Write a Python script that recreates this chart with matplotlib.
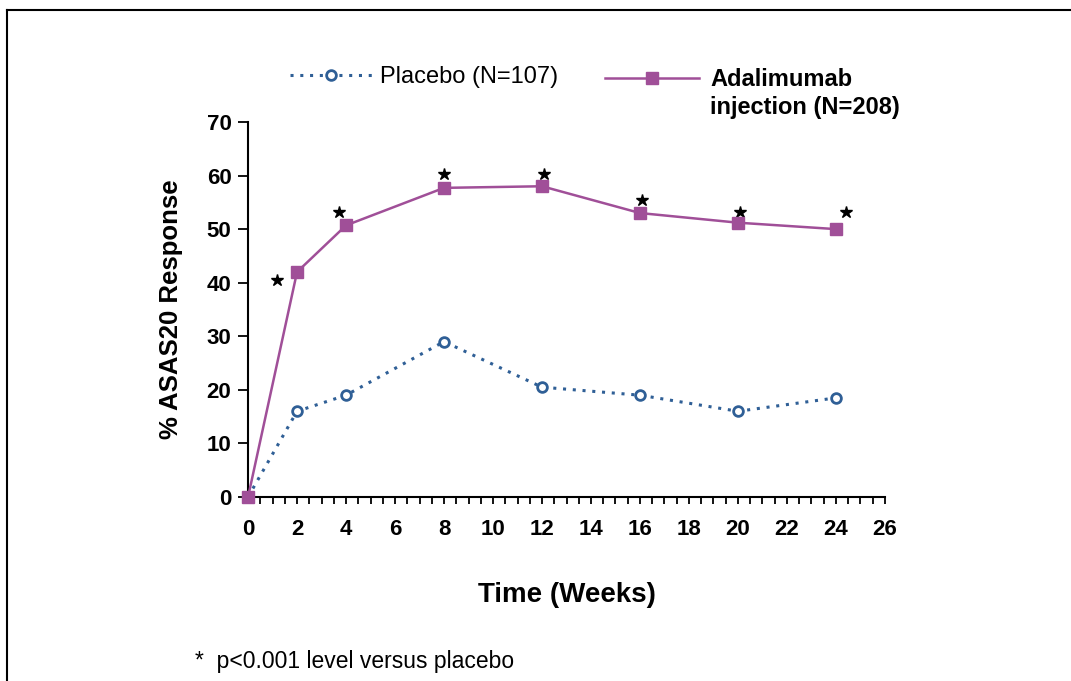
import matplotlib.pyplot as plt
from matplotlib.lines import Line2D
from matplotlib.ticker import MultipleLocator

plt.rcParams["font.family"] = ["Liberation Sans", "DejaVu Sans"]

placebo_color = "#2f5f96"
adal_color = "#a04f98"

# Data
weeks = [0, 2, 4, 8, 12, 16, 20, 24]
placebo = [0, 16, 19, 29, 20.5, 19, 16, 18.5]
adalimumab = [0, 42, 50.7, 57.7, 58, 53, 51.2, 50]

# significance asterisks (x, y)
star_x = [1.2, 3.7, 8.0, 12.1, 16.1, 20.1, 24.4]
star_y = [40.5, 53.2, 60.3, 60.3, 55.4, 53.2, 53.2]

fig = plt.figure(figsize=(10.71, 6.81), dpi=100)
ax = fig.add_axes([0.2316, 0.2702, 0.5947, 0.5507])

(l_pla,) = ax.plot(
    weeks, placebo, linestyle=(0, (1, 2.2)), linewidth=2.2, color=placebo_color,
    marker="o", markersize=7, markerfacecolor="white",
    markeredgecolor=placebo_color, markeredgewidth=2, label="Placebo (N=107)",
    clip_on=False,
)
(l_ada,) = ax.plot(
    weeks, adalimumab, linestyle="-", linewidth=1.8, color=adal_color,
    marker="s", markersize=9, markerfacecolor=adal_color,
    markeredgecolor=adal_color, label="Adalimumab", clip_on=False, zorder=3,
)
ax.plot(star_x, star_y, linestyle="none", marker="*", markersize=9, color="black")

ax.set_xlim(0, 26)
ax.set_ylim(0, 70)
ax.xaxis.set_major_locator(MultipleLocator(2))
ax.xaxis.set_minor_locator(MultipleLocator(0.5))
ax.yaxis.set_major_locator(MultipleLocator(10))

for s in ["top", "right"]:
    ax.spines[s].set_visible(False)
for s in ["left", "bottom"]:
    ax.spines[s].set_linewidth(1.5)

ax.tick_params(axis="x", which="both", direction="out", length=5, width=1.3,
               labelsize=16, pad=11)
ax.tick_params(axis="y", which="major", direction="out", length=7, width=1.3,
               labelsize=16, pad=5)
for lab in ax.get_xticklabels() + ax.get_yticklabels():
    lab.set_fontweight("bold")

ax.set_xlabel("Time (Weeks)", fontsize=20, fontweight="bold", labelpad=30)
ax.set_ylabel("% ASAS20 Response", fontsize=18.5, fontweight="bold", labelpad=17)

# legends
leg1 = fig.legend(handles=[l_pla], loc="center left",
                  bbox_to_anchor=(0.251, 0.887), frameon=False, fontsize=17,
                  handlelength=3.5, handletextpad=0.3)
leg2 = fig.legend(handles=[l_ada], loc="center left",
                  bbox_to_anchor=(0.545, 0.883), frameon=False,
                  handlelength=4.0, handletextpad=0.45,
                  prop={"weight": "bold", "size": 17})
fig.text(0.663, 0.842, "injection (N=208)", fontsize=17, fontweight="bold",
         va="center", ha="left")

fig.text(0.182, 0.029, "*  p<0.001 level versus placebo", fontsize=16.5,
         va="center", ha="left")

# outer frame (top and left edges)
fig.add_artist(Line2D([0.0065, 1.0], [0.985, 0.985], color="black",
                      linewidth=1.5, transform=fig.transFigure))
fig.add_artist(Line2D([0.0065, 0.0065], [0.0, 0.985], color="black",
                      linewidth=1.5, transform=fig.transFigure))

fig.savefig("out.png", dpi=100)
